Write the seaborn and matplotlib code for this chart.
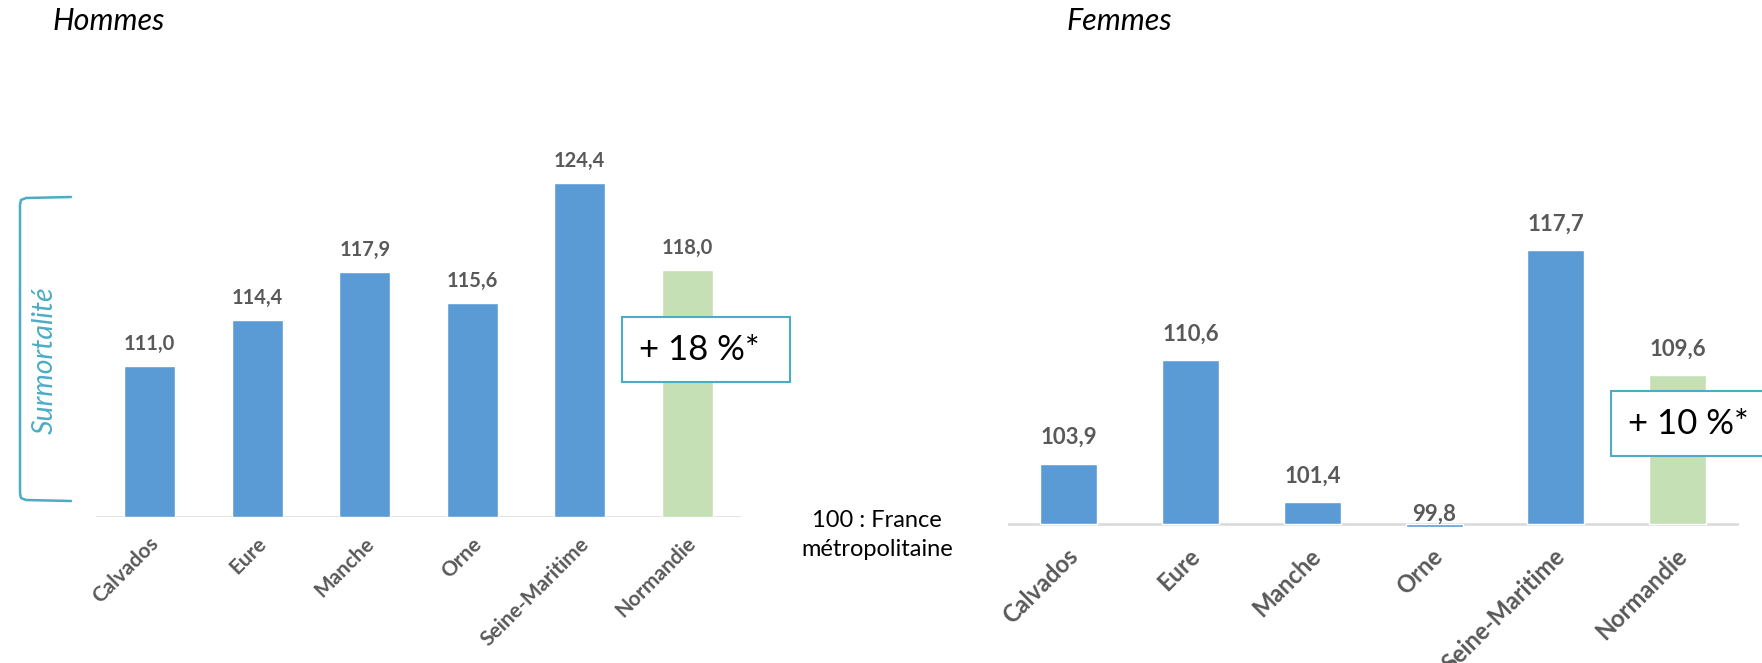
import matplotlib
matplotlib.use("Agg")
import matplotlib.pyplot as plt
import matplotlib.transforms as mtransforms
from matplotlib.patches import Rectangle
from matplotlib.lines import Line2D
import seaborn as sns
import pandas as pd

# ---- data ----
departements = ["Calvados", "Eure", "Manche", "Orne", "Seine-Maritime", "Normandie"]
hommes = [111.0, 114.4, 117.9, 115.6, 124.4, 118.0]
femmes = [103.9, 110.6, 101.4, 99.8, 117.7, 109.6]
reference = 100.0
titre_h = "Hommes"
titre_f = "Femmes"
encadre_h = "+ 18 %*"
encadre_f = "+ 10 %*"
note_ref_1 = "100 : France"
note_ref_2 = "métropolitaine"
accolade = "Surmortalité"

BLUE = "#5B9BD5"
GREEN = "#C5E0B4"
TEAL = "#4BACC6"
GREY_TXT = "#595959"
AXIS_GREY = "#D9D9D9"

sns.set_theme(style="white")
plt.rcParams["font.family"] = ["Lato", "DejaVu Sans"]

W, H = 1762, 663
fig = plt.figure(figsize=(W / 100, H / 100), dpi=100)


def fx(px):
    return px / W


def fy(py):
    return 1 - py / H


palette = [BLUE] * 5 + [GREEN]


def draw(ax, values, label_offset_pt, label_size, tick_size, tick_pad_pt, tick_dx_px):
    df = pd.DataFrame({"dep": departements,
                       "ecart": [v - reference for v in values]})
    sns.barplot(data=df, x="dep", y="ecart", hue="dep", palette=palette,
                legend=False, width=0.47, ax=ax, saturation=1)
    ax.axhline(0, color=AXIS_GREY, lw=1.8, zorder=0.5)
    for i, v in enumerate(values):
        dev = v - reference
        off = label_offset_pt if dev >= 0 else 2.5
        ax.annotate(f"{v:.1f}".replace(".", ","),
                    xy=(i, max(dev, 0)), xytext=(0, off),
                    textcoords="offset points", ha="center", va="baseline",
                    fontsize=label_size, fontweight="bold", color=GREY_TXT)
    for s in ax.spines.values():
        s.set_visible(False)
    ax.set_xlabel("")
    ax.set_ylabel("")
    ax.set_yticks([])
    ax.tick_params(axis="x", length=0, pad=tick_pad_pt)
    ax.set_xticks(range(len(departements)))
    ax.set_xticklabels(departements, rotation=45, ha="right",
                       rotation_mode="anchor", va="center",
                       fontsize=tick_size, fontweight="bold", color=GREY_TXT)
    shift = mtransforms.ScaledTranslation(tick_dx_px / 100, 0, fig.dpi_scale_trans)
    for lab in ax.get_xticklabels():
        lab.set_transform(lab.get_transform() + shift)
    ax.set_facecolor("none")


top_px = 60
# left axes: baseline at y=517 px, 13.7 px per unit
axL = fig.add_axes([fx(96), fy(517), fx(741 - 96), (517 - top_px) / H])
draw(axL, hommes, 11.5, 14.5, 15, 17, 6)
axL.set_ylim(0, (517 - top_px) / 13.7)
axL.set_xlim(-0.5, 5.5)

# right axes: baseline at y=524 px, 15.5 px per unit, bottom at 530
axR = fig.add_axes([fx(1008), fy(530), fx(1738.5 - 1008), (530 - top_px) / H])
draw(axR, femmes, 14, 16, 17, 16, 5)
ymin = -6 / 15.5
axR.set_ylim(ymin, ymin + (530 - top_px) / 15.5)
axR.set_xlim(-0.5, 5.5)

# titles
fig.text(fx(53), fy(30), titre_h, fontsize=22, fontstyle="italic",
         color="black", va="baseline", ha="left")
fig.text(fx(1067), fy(30), titre_f, fontsize=22, fontstyle="italic",
         color="black", va="baseline", ha="left")

# boxes
fig.add_artist(Rectangle((fx(622), fy(382)), fx(790 - 622), (382 - 317) / H,
                         transform=fig.transFigure, facecolor="white",
                         edgecolor=TEAL, lw=1.5, zorder=5))
fig.text(fx(699), fy(350), encadre_h, fontsize=25, ha="center", va="center",
         color="black", zorder=6)
fig.add_artist(Rectangle((fx(1611), fy(456)), fx(1800 - 1611), (456 - 391) / H,
                         transform=fig.transFigure, facecolor="white",
                         edgecolor=TEAL, lw=1.5, zorder=5))
fig.text(fx(1688), fy(424), encadre_f, fontsize=25, ha="center", va="center",
         color="black", zorder=6)

# reference note
fig.text(fx(877), fy(527), note_ref_1, fontsize=17, ha="center",
         va="baseline", color="black")
fig.text(fx(877), fy(556), note_ref_2, fontsize=17, ha="center",
         va="baseline", color="black")

# bracket
bx = [fx(71), fx(26), fx(21), fx(20), fx(20), fx(21), fx(26), fx(71)]
by = [fy(197), fy(198), fy(200), fy(205), fy(493), fy(498), fy(500), fy(501)]
fig.add_artist(Line2D(bx, by, transform=fig.transFigure, color=TEAL, lw=1.8))
fig.text(fx(45), fy(360), accolade, rotation=90, fontsize=20.5,
         fontstyle="italic", color=TEAL, ha="center", va="center")

fig.savefig("out.png", dpi=100)
